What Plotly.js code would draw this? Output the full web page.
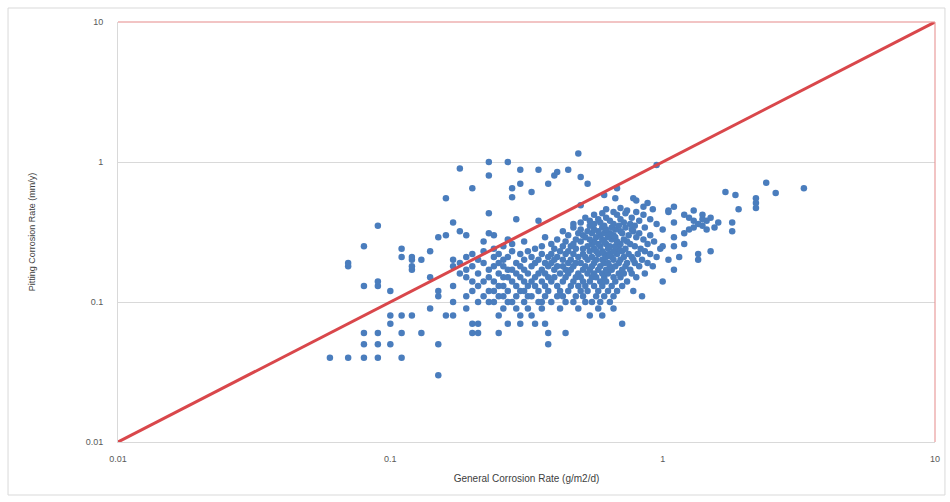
<!DOCTYPE html>
<html>
<head>
<meta charset="utf-8">
<script src="https://cdn.plot.ly/plotly-3.0.1.min.js"></script>
<style>html,body{margin:0;padding:0;background:#fff;}#chart{width:950px;height:502px;}</style>
</head>
<body>
<div id="chart"></div>
<script>
// Pitting corrosion rate rows (mm/y)
const pitY = [0.03,0.04,0.05,0.06,0.07,0.08,0.09,0.10,0.11,0.12,0.13,0.14,0.15,0.16,0.17,0.18,0.19,0.20,0.21,0.22,0.23,0.24,0.25,0.26,0.27,0.28,0.29,0.30,0.31,0.32,0.33,0.34,0.35,0.36,0.37,0.38,0.39,0.40,0.42,0.43,0.44,0.45,0.46,0.47,0.48,0.49,0.51,0.53,0.55,0.56,0.58,0.60,0.61,0.65,0.70,0.71,0.78,0.80,0.85,0.88,0.90,0.95,1.0,1.15];
// General corrosion rates (g/m2/d) for each pitting row
const genXByRow = [
  [0.15],
  [0.06,0.07,0.08,0.09,0.11],
  [0.08,0.09,0.10,0.15,0.38],
  [0.08,0.09,0.11,0.13,0.20,0.21,0.25,0.38,0.44],
  [0.10,0.20,0.21,0.27,0.30,0.34,0.37,0.71],
  [0.10,0.11,0.12,0.16,0.17,0.25,0.30,0.33,0.54,0.60],
  [0.14,0.19,0.26,0.29,0.32,0.36,0.42,0.49,0.58,0.66],
  [0.17,0.21,0.23,0.24,0.27,0.28,0.31,0.35,0.36,0.39,0.44,0.47,0.52,0.55,0.59,0.64],
  [0.15,0.19,0.22,0.25,0.26,0.29,0.32,0.33,0.37,0.41,0.43,0.48,0.51,0.57,0.61,0.66,0.84],
  [0.10,0.15,0.20,0.23,0.24,0.27,0.30,0.31,0.35,0.38,0.42,0.45,0.50,0.53,0.58,0.63,0.68,0.78],
  [0.08,0.09,0.17,0.21,0.25,0.26,0.29,0.32,0.34,0.37,0.41,0.46,0.49,0.52,0.56,0.60,0.65,0.71],
  [0.09,0.20,0.22,0.24,0.28,0.31,0.33,0.36,0.39,0.43,0.47,0.51,0.54,0.59,0.62,0.67,0.74,1.0],
  [0.14,0.19,0.23,0.26,0.27,0.30,0.34,0.38,0.40,0.44,0.48,0.50,0.55,0.57,0.61,0.66,0.70,0.80],
  [0.18,0.21,0.25,0.29,0.32,0.35,0.37,0.42,0.45,0.49,0.53,0.56,0.60,0.63,0.69,0.72,0.77,0.86],
  [0.12,0.19,0.23,0.27,0.28,0.31,0.36,0.40,0.44,0.46,0.51,0.54,0.58,0.62,0.65,0.71,0.76,1.1],
  [0.07,0.12,0.17,0.20,0.24,0.26,0.30,0.33,0.38,0.41,0.43,0.47,0.52,0.55,0.59,0.64,0.67,0.73,0.82,0.92],
  [0.07,0.18,0.22,0.25,0.29,0.34,0.37,0.39,0.45,0.48,0.50,0.56,0.61,0.63,0.69,0.74,0.79,0.88],
  [0.12,0.13,0.17,0.21,0.26,0.31,0.35,0.40,0.43,0.46,0.53,0.57,0.60,0.66,0.70,0.78,0.84,1.05,1.35],
  [0.11,0.12,0.19,0.24,0.27,0.33,0.38,0.41,0.49,0.52,0.55,0.62,0.65,0.72,0.77,0.95,1.15],
  [0.20,0.25,0.30,0.36,0.39,0.44,0.47,0.51,0.58,0.61,0.64,0.68,0.75,0.81,0.90,1.35],
  [0.14,0.22,0.28,0.32,0.42,0.45,0.54,0.57,0.60,0.66,0.71,0.86,1.5],
  [0.11,0.24,0.34,0.40,0.48,0.51,0.56,0.63,0.69,0.73,0.83,0.98],
  [0.08,0.26,0.36,0.43,0.46,0.53,0.59,0.64,0.67,0.79,1.0,1.1],
  [0.28,0.39,0.47,0.55,0.58,0.62,0.70,0.76,0.88,1.2],
  [0.22,0.31,0.44,0.50,0.56,0.61,0.68,0.74,0.93],
  [0.27,0.41,0.48,0.54,0.60,0.65,0.72,0.85],
  [0.15,0.37,0.52,0.57,0.63,0.67,0.80,1.1],
  [0.16,0.19,0.24,0.45,0.51,0.59,0.66,0.75,0.90],
  [0.23,0.49,0.55,0.61,0.64,0.71,0.82,1.2],
  [0.18,0.43,0.53,0.58,0.70,0.78,1.8],
  [0.50,0.56,0.62,0.67,0.77,1.0,1.25,1.45],
  [0.47,0.60,0.65,0.73,0.86,1.3,1.55],
  [0.09,0.54,0.61,0.69,0.79,1.4],
  [0.47,0.56,0.66,0.76,0.95,1.35],
  [0.17,0.50,0.59,0.72,1.1,1.6,1.8],
  [0.35,0.54,0.64,0.82,1.3,1.45],
  [0.29,0.58,0.70,0.90,1.4],
  [0.52,0.62,0.77,1.25,1.5],
  [0.56,0.68,0.85,1.2,1.4],
  [0.23,0.60,0.73],
  [0.66,0.80,1.05],
  [0.74,1.3,1.05],
  [0.62,0.92,1.9],
  [0.70,2.2],
  [0.85,1.1],
  [0.50],
  [0.88,2.2],
  [0.80],
  [0.16,0.67,0.78,2.2],
  [0.28],
  [0.61,1.85],
  [2.6],
  [0.33,1.7],
  [0.20,0.28,0.68,3.3],
  [0.30,0.38,0.53],
  [2.4],
  [0.50],
  [0.23,0.40],
  [0.41],
  [0.30,0.35,0.45],
  [0.18],
  [0.95],
  [0.23,0.27],
  [0.49]
];
// 1:1 reference line
const refX = [0.01, 10];
const refY = [0.01, 10];
const tickVals = [0.01, 0.1, 1, 10];
const tickText = ['0.01', '0.1', '1', '10'];

const ptsX = [], ptsY = [];
pitY.forEach((yv, i) => { genXByRow[i].forEach(xv => { ptsX.push(xv); ptsY.push(yv); }); });

const data = [
  {x: ptsX, y: ptsY, type: 'scatter', mode: 'markers',
   marker: {color: '#4a7dbd', size: 6.5}, hoverinfo: 'x+y', showlegend: false},
  {x: refX, y: refY, type: 'scatter', mode: 'lines',
   line: {color: '#d9474b', width: 3}, showlegend: false}
];

const layout = {
  width: 950, height: 502,
  margin: {l: 118, r: 15, t: 22, b: 60},
  paper_bgcolor: '#ffffff', plot_bgcolor: '#ffffff',
  font: {family: 'Liberation Sans, Arial, sans-serif', color: '#595959', size: 9},
  xaxis: {
    type: 'log', range: [-2, 1], showgrid: false, zeroline: false,
    showline: true, linecolor: '#d9d9d9', linewidth: 1,
    tickvals: tickVals, ticktext: tickText, ticks: '', ticklabelstandoff: 8,
    tickfont: {size: 9, color: '#595959'},
    title: {text: 'General Corrosion Rate (g/m2/d)', font: {size: 10, color: '#404040'}, standoff: 12}
  },
  yaxis: {
    type: 'log', range: [-2, 1], showgrid: true, gridcolor: '#d9d9d9', gridwidth: 1, zeroline: false,
    showline: true, linecolor: '#d9d9d9', linewidth: 1,
    tickvals: tickVals, ticktext: tickText, ticks: '', ticklabelstandoff: 12,
    tickfont: {size: 9, color: '#595959'},
    title: {text: 'Pitting Corrosion Rate (mm/y)', font: {size: 9, color: '#404040'}, standoff: 48}
  },
  shapes: [
    {type: 'line', xref: 'paper', yref: 'paper', x0: 0, x1: 1, y0: 1, y1: 1,
     line: {color: 'rgba(232,150,150,0.75)', width: 1.5}},
    {type: 'line', xref: 'paper', yref: 'paper', x0: 1, x1: 1, y0: 0, y1: 1,
     line: {color: 'rgba(232,150,150,0.75)', width: 1.5}},
    {type: 'rect', xref: 'paper', yref: 'paper', x0: -0.1346, x1: 1.0122, y0: -0.1262, y1: 1.0333,
     line: {color: '#d9d9d9', width: 1}, fillcolor: 'rgba(0,0,0,0)'}
  ]
};

Plotly.newPlot('chart', data, layout, {displayModeBar: false, staticPlot: true});
</script>
</body>
</html>
